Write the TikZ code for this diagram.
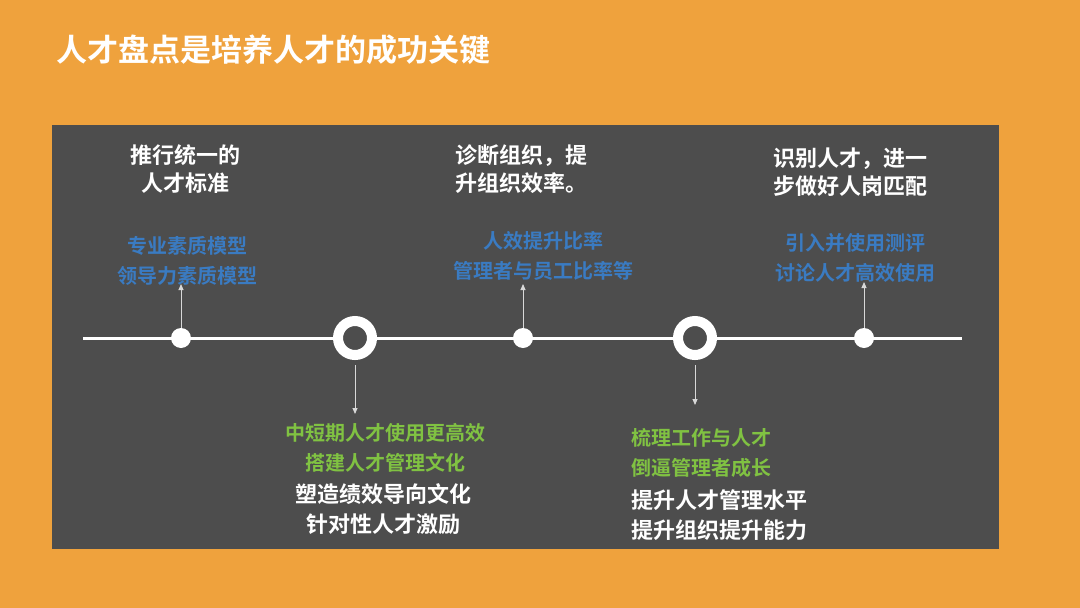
\documentclass[tikz,border=0pt]{standalone}
\usepackage{fontspec}
\setmainfont{Noto Sans CJK SC}[BoldFont={Noto Sans CJK SC Bold}]
\usetikzlibrary{arrows.meta}
\definecolor{bgorange}{HTML}{EFA23D}
\definecolor{panel}{HTML}{4D4D4D}
\definecolor{hlblue}{HTML}{3A7BC2}
\definecolor{hlgreen}{HTML}{80C242}
\definecolor{arrowgray}{HTML}{D8D8D8}
\tikzset{
  headtext/.style={text=white,font=\bfseries\fontsize{22}{28}\selectfont,inner sep=0pt},
  bluetext/.style={text=hlblue,font=\bfseries\fontsize{20}{30}\selectfont,inner sep=0pt,align=center},
  greentext/.style={text=hlgreen,font=\bfseries\fontsize{20}{30}\selectfont,inner sep=0pt},
  whitetext/.style={text=white,font=\bfseries\fontsize{22}{30}\selectfont,inner sep=0pt},
  dot/.style={circle,fill=white,minimum size=20pt,inner sep=0pt},
  ring/.style={circle,draw=white,line width=10pt,fill=panel,minimum size=34pt,inner sep=0pt},
  pointer/.style={draw=arrowgray,line width=0.9pt,-{Triangle[width=5pt,length=6pt]}},
}
\begin{document}
\begin{tikzpicture}[x=1pt,y=-1pt]
\fill[bgorange] (0,0) rectangle (1080,608);
\useasboundingbox (0,0) rectangle (1080,608);
\node[anchor=west,text=white,font=\bfseries\fontsize{31}{36}\selectfont,inner sep=0pt] (title) at (56,50) {人才盘点是培养人才的成功关键};
\fill[panel] (52,125) rectangle (999,549);
% timeline
\coordinate (tlstart) at (83,338);
\coordinate (tlend) at (962,338);
\draw[white,line width=3pt] (tlstart) -- (tlend);
\node[dot] (d1) at (181,338) {};
\node[ring] (r1) at (355,338) {};
\node[dot] (d2) at (523,338) {};
\node[ring] (r2) at (695,338) {};
\node[dot] (d3) at (864,338) {};
% arrow end points
\coordinate (a1) at (181,284);
\coordinate (a2) at (523,284);
\coordinate (a3) at (864,282);
\coordinate (b1) at (355,414);
\coordinate (b2) at (695,405);
\draw[pointer] (d1.north) -- (a1);
\draw[pointer] (d2.north) -- (a2);
\draw[pointer] (d3.north) -- (a3);
\draw[pointer] (r1.south) ++(0,5) -- (b1);
\draw[pointer] (r2.south) ++(0,5) -- (b2);
% top texts
\node[headtext,align=center] (h1) at (185,169) {推行统一的\\人才标准};
\node[bluetext] (u1) at (187,261) {专业素质模型\\领导力素质模型};
\node[headtext,align=left,anchor=west] (h2) at (455,169) {诊断组织，提\\升组织效率。};
\node[bluetext] (u2) at (543,256) {人效提升比率\\管理者与员工比率等};
\node[headtext,align=left,anchor=west] (h3) at (773,172) {识别人才，进一\\步做好人岗匹配};
\node[bluetext] (u3) at (855,258) {引入并使用测评\\讨论人才高效使用};
% bottom texts
\node[greentext,align=center] (g1) at (385,448) {中短期人才使用更高效\\搭建人才管理文化};
\node[whitetext,align=center] (w1) at (383,509) {塑造绩效导向文化\\针对性人才激励};
\node[greentext,align=left,anchor=west] (g2) at (631,453) {梳理工作与人才\\倒逼管理者成长};
\node[whitetext,align=left,anchor=west] (w2) at (631,515) {提升人才管理水平\\提升组织提升能力};
\end{tikzpicture}
\end{document}
